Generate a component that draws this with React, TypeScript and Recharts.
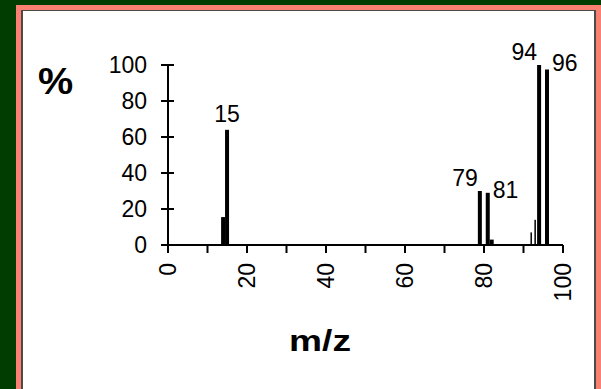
import React from "react";
import { BarChart, Bar, XAxis, YAxis, LabelList } from "recharts";

// mass spectrum peaks (m/z, relative abundance %)
const mzValues = [14, 15, 79, 81, 82, 92, 93, 94, 96];
const abundance = [15.5, 64, 30, 29, 3, 7, 14, 100, 97.5];
const labeledPeaks = [15, 79, 81, 94, 96];
const xTicks = [0, 10, 20, 30, 40, 50, 60, 70, 80, 90, 100];
const yTicks = [0, 20, 40, 60, 80, 100];

const data = mzValues.map((mz, i) => ({
  mz,
  pct: abundance[i],
  label: labeledPeaks.includes(mz) ? String(mz) : "",
}));

const FONT = '"Liberation Sans", Arial, sans-serif';
const FS = 23;
const THIN = new Set([92, 93]);

// where each peak label sits relative to its bar top
const labelSide: Record<string, "top" | "left" | "right"> = {
  "15": "top",
  "79": "left",
  "81": "right",
  "94": "left",
  "96": "right",
};

const PeakShape = (props: any) => {
  const { x, y, width, height, payload } = props;
  const cx = x + width / 2;
  const w = THIN.has(payload.mz) ? 1.5 : 4;
  return <rect x={cx - w / 2} y={y} width={w} height={height} fill="#000" />;
};

const PeakLabel = (props: any) => {
  const { x, y, width, value } = props;
  if (!value) return null;
  const cx = x + width / 2;
  const side = labelSide[value];
  let tx = cx;
  let ty = y - 8;
  let anchor: "start" | "middle" | "end" = "middle";
  if (side === "left") {
    tx = cx - 2;
    ty = y - 5;
    anchor = "end";
  } else if (side === "right") {
    tx = cx + 5;
    ty = value === "96" ? y + 1 : y + 5;
    anchor = "start";
  }
  return (
    <text x={tx} y={ty} textAnchor={anchor} fontSize={FS} fontFamily={FONT} fill="#000">
      {value}
    </text>
  );
};

const YTick = (props: any) => {
  const { x, y, payload } = props;
  // x = axis - tickSize - tickMargin
  const axisX = x + 14 + 7;
  return (
    <g>
      <line x1={axisX - 7} x2={axisX + 6} y1={y} y2={y} stroke="#000" strokeWidth={2} />
      <text x={x} y={y} dy="0.36em" textAnchor="end" fontSize={FS} fontFamily={FONT} fill="#000">
        {payload.value}
      </text>
    </g>
  );
};

const XTick = (props: any) => {
  const { x, y, payload } = props;
  if (payload.value % 20 !== 0) return null;
  return (
    <text
      x={x}
      y={y}
      transform={`rotate(-90, ${x}, ${y})`}
      textAnchor="end"
      dy="0.36em"
      fontSize={FS}
      fontFamily={FONT}
      fill="#000"
    >
      {payload.value}
    </text>
  );
};

export default function App() {
  return (
    <div
      style={{
        position: "absolute",
        left: 0,
        top: 0,
        width: 601,
        height: 389,
        overflow: "hidden",
        background: "#013d01",
      }}
    >
      <div style={{ position: "absolute", left: 16, top: 5, width: 585, height: 400, background: "#fa8072" }}>
        <div
          style={{
            position: "absolute",
            left: 5,
            top: 5,
            right: 5,
            bottom: 0,
            background: "#fff",
            borderLeft: "2px solid #4a4a4a",
            borderTop: "1px solid #4a4a4a",
            borderRight: "2px solid #4a4a4a",
          }}
        />
      </div>

      <div
        style={{
          position: "absolute",
          left: 38,
          top: 61,
          fontFamily: FONT,
          fontWeight: "bold",
          fontSize: 36,
          transform: "scaleX(1.1)",
          transformOrigin: "left top",
        }}
      >
        %
      </div>
      <div
        style={{
          position: "absolute",
          left: 220,
          width: 200,
          textAlign: "center",
          top: 325,
          fontFamily: FONT,
          fontWeight: "bold",
          fontSize: 29,
          transform: "scaleX(1.28)",
        }}
      >
        m/z
      </div>

      <div style={{ position: "absolute", left: 0, top: 0 }}>
        <BarChart
          width={601}
          height={389}
          data={data}
          margin={{ top: 65, right: 38, bottom: 94, left: 108 }}
          barSize={4}
        >
          <XAxis
            type="number"
            dataKey="mz"
            domain={[0, 100]}
            ticks={xTicks}
            interval={0}
            allowDataOverflow
            stroke="#000"
            strokeWidth={2}
            tickSize={8}
            tickMargin={10}
            tick={<XTick />}
            height={50}
          />
          <YAxis
            type="number"
            domain={[0, 100]}
            ticks={yTicks}
            interval={0}
            stroke="#000"
            strokeWidth={2}
            tickLine={false}
            tickSize={7}
            tickMargin={14}
            tick={<YTick />}
            width={60}
          />
          <Bar dataKey="pct" shape={<PeakShape />} isAnimationActive={false}>
            <LabelList dataKey="label" content={<PeakLabel />} />
          </Bar>
        </BarChart>
      </div>
    </div>
  );
}
